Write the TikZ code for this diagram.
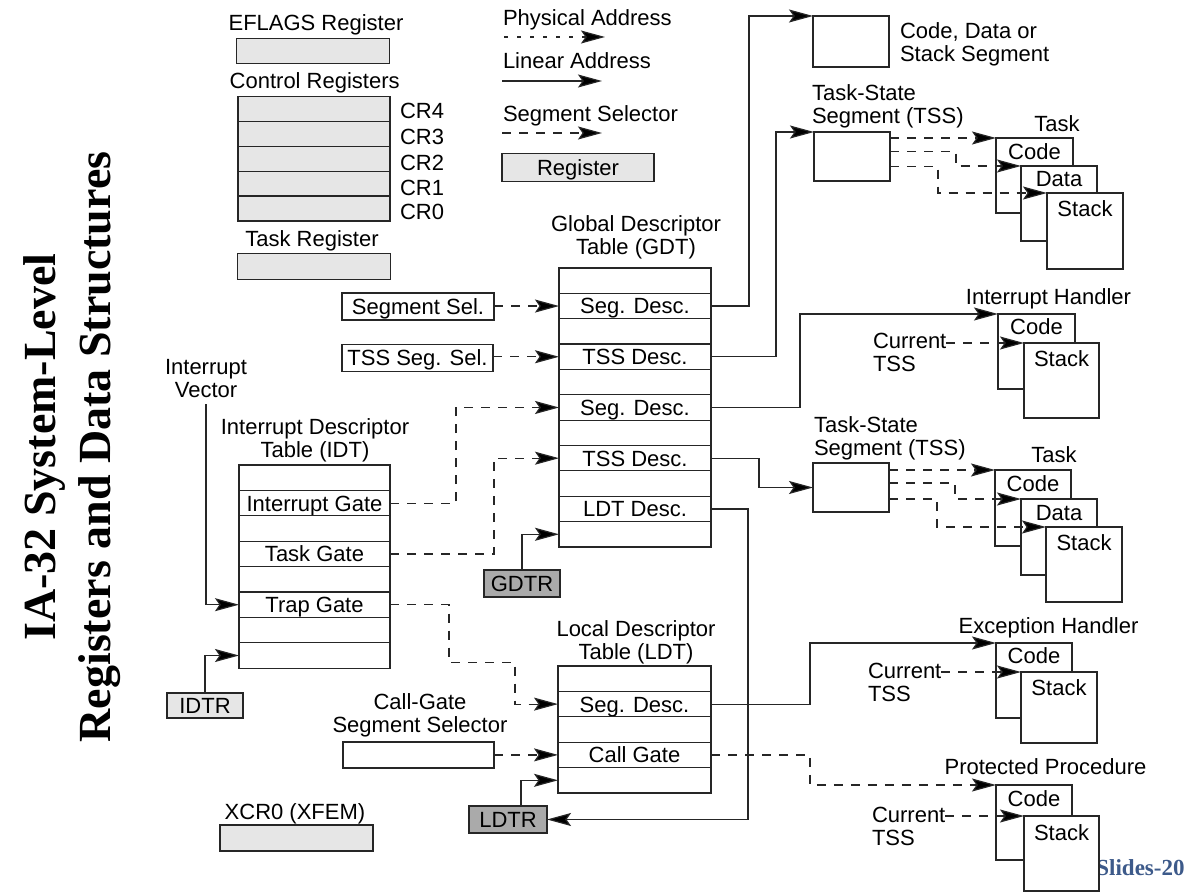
\documentclass[tikz,border=0pt]{standalone}
\usepackage{fontspec}
\setmainfont{Liberation Sans}
\newfontfamily\serifbold{Liberation Serif}
\usetikzlibrary{arrows.meta,calc}
\definecolor{lightreg}{HTML}{E6E6E6}
\definecolor{darkreg}{HTML}{AAAAAA}
\definecolor{linecol}{HTML}{262626}
\definecolor{slideblue}{HTML}{3D5A8A}
\begin{document}
\begin{tikzpicture}[x=1pt,y=-1pt,
  every node/.style={inner sep=0pt,outer sep=0pt},
  fs/.style={font=\fontsize{22}{23}\selectfont},
  lbl/.style={fs,text height=15.8pt,text depth=0pt},
  lbl2/.style={fs,align=center},
  plainbox/.style={draw=linecol,line width=1.2pt,fill=white},
  regbox/.style={draw=linecol,line width=1.2pt,fill=lightreg},
  darkbox/.style={draw=linecol,line width=1.2pt,fill=darkreg},
  cell/.style={plainbox,lbl,minimum height=25.4pt},
  regcell/.style={regbox,minimum height=24.9pt,minimum width=152pt},
  conn/.style={draw=linecol,line width=1.2pt},
  dconn/.style={conn,dash pattern=on 9pt off 8pt},
  pconn/.style={conn,dash pattern=on 4pt off 9pt},
  arr/.style={-{Stealth[length=24pt,width=13pt,inset=4.5pt,fill=black]}},
]
\fill[white] (0,0) rectangle (1192,896);
\useasboundingbox (0,0) rectangle (1192,896);

% ---------- title ----------
\node[font=\serifbold\bfseries\fontsize{46}{55}\selectfont,align=center,rotate=90] (title) at (71.75,447)
  {\strut IA-32 System-Level\\\strut Registers and Data Structures};
\node[font=\serifbold\bfseries\fontsize{23}{25}\selectfont,text=slideblue,text height=15.2pt,text depth=0pt] (slides) at (1140.5,868) {Slides-20};

% ---------- registers (top left) ----------
\node[lbl] (eflagslbl) at (316,23) {EFLAGS Register};
\node[regbox,minimum width=153pt,minimum height=25pt] (eflags) at (313.3,50.8) {};
\node[lbl] (crlbl) at (314.7,81) {Control Registers};
\node[regcell] (cr4) at (314,108.95) {};
\node[regcell] (cr3) at (314,133.85) {};
\node[regcell] (cr2) at (314,158.75) {};
\node[regcell] (cr1) at (314,183.65) {};
\node[regcell] (cr0) at (314,208.55) {};
\node[lbl,anchor=west] (cr4l) at (400,111) {CR4};
\node[lbl,anchor=west] (cr3l) at (400,137) {CR3};
\node[lbl,anchor=west] (cr2l) at (400,163) {CR2};
\node[lbl,anchor=west] (cr1l) at (400,188) {CR1};
\node[lbl,anchor=west] (cr0l) at (400,212) {CR0};
\node[lbl] (trlbl) at (312,239) {Task Register};
\node[regbox,minimum width=153pt,minimum height=26pt] (tr) at (314.2,266.3) {};

% ---------- legend ----------
\node[lbl,anchor=west] (physlbl) at (503,17.5) {Physical Address};
\coordinate (pa) at (504,37);
\coordinate (pb) at (605,37);
\node[lbl,anchor=west] (linlbl) at (503,61) {Linear Address};
\coordinate (la) at (502,81);
\coordinate (lb) at (602,81);
\node[lbl,anchor=west] (sellbl) at (503,113.5) {Segment Selector};
\coordinate (sa) at (502,133);
\coordinate (sb) at (602,133);
\node[regbox,lbl,minimum width=152pt,minimum height=28pt] (reglegend) at (578,167.5) {Register};

% ---------- code/data/stack segment ----------
\node[plainbox,minimum width=76pt,minimum height=51pt,anchor=north west] (cds) at (813,16) {};
\node[lbl2,anchor=west,align=left] (cdslbl) at (900,45.8) {\strut Code, Data or\\\strut Stack Segment};

% ---------- TSS 1 and task 1 ----------
\node[lbl2,anchor=west,align=left] (tss1lbl) at (812,107.3) {\strut Task-State\\\strut Segment (TSS)};
\node[plainbox,minimum width=76pt,minimum height=49pt,anchor=north west] (tss1) at (814,132) {};
\node[lbl] (task1lbl) at (1057,124) {Task};
\node[plainbox,minimum width=77pt,minimum height=75pt,anchor=north west] (t1code) at (996,138) {};
\node[plainbox,minimum width=76pt,minimum height=75pt,anchor=north west] (t1data) at (1021,166) {};
\node[plainbox,minimum width=76pt,minimum height=76pt,anchor=north west] (t1stack) at (1047,193) {};
\node[lbl] (t1codet) at ([yshift=-13.5pt]t1code.north) {Code};
\node[lbl] (t1datat) at ([yshift=-13pt]t1data.north) {Data};
\node[lbl] (t1stackt) at ([yshift=-16pt]t1stack.north) {Stack};

% ---------- interrupt handler ----------
\node[lbl] (ihlbl) at (1048.5,297) {Interrupt Handler};
\node[plainbox,minimum width=77pt,minimum height=75pt,anchor=north west] (ihcode) at (998,314) {};
\node[plainbox,minimum width=75pt,minimum height=75pt,anchor=north west] (ihstack) at (1024,343) {};
\node[lbl] (ihcodet) at ([yshift=-13pt]ihcode.north) {Code};
\node[lbl] (ihstackt) at ([yshift=-16pt]ihstack.north) {Stack};
\node[lbl2,anchor=west,align=left] (cur1) at (873,355.8) {\strut Current\\\strut TSS};

% ---------- TSS 2 and task 2 ----------
\node[lbl2,anchor=west,align=left] (tss2lbl) at (814,439.3) {\strut Task-State\\\strut Segment (TSS)};
\node[plainbox,minimum width=76pt,minimum height=49pt,anchor=north west] (tss2) at (813,463) {};
\node[lbl] (task2lbl) at (1054,455) {Task};
\node[plainbox,minimum width=76pt,minimum height=76pt,anchor=north west] (t2code) at (995,470) {};
\node[plainbox,minimum width=76pt,minimum height=76pt,anchor=north west] (t2data) at (1021,499) {};
\node[plainbox,minimum width=76pt,minimum height=75pt,anchor=north west] (t2stack) at (1046,527) {};
\node[lbl] (t2codet) at ([yshift=-14pt]t2code.north) {Code};
\node[lbl] (t2datat) at ([yshift=-14pt]t2data.north) {Data};
\node[lbl] (t2stackt) at ([yshift=-16pt]t2stack.north) {Stack};

% ---------- exception handler ----------
\node[lbl] (ehlbl) at (1048.5,626) {Exception Handler};
\node[plainbox,minimum width=76pt,minimum height=75pt,anchor=north west] (ehcode) at (996,643) {};
\node[plainbox,minimum width=76pt,minimum height=71pt,anchor=north west] (ehstack) at (1021,672) {};
\node[lbl] (ehcodet) at ([yshift=-13pt]ehcode.north) {Code};
\node[lbl] (ehstackt) at ([yshift=-16pt]ehstack.north) {Stack};
\node[lbl2,anchor=west,align=left] (cur2) at (868,685.8) {\strut Current\\\strut TSS};

% ---------- protected procedure ----------
\node[lbl] (pplbl) at (1045.5,767) {Protected Procedure};
\node[plainbox,minimum width=76pt,minimum height=75pt,anchor=north west] (ppcode) at (996,785) {};
\node[plainbox,minimum width=75pt,minimum height=75pt,anchor=north west] (ppstack) at (1024,816) {};
\node[lbl] (ppcodet) at ([yshift=-14pt]ppcode.north) {Code};
\node[lbl] (ppstackt) at ([yshift=-16.5pt]ppstack.north) {Stack};
\node[lbl2,anchor=west,align=left] (cur3) at (872,829.8) {\strut Current\\\strut TSS};

% ---------- GDT ----------
\node[lbl2] (gdtlbl) at (636,238.8) {\strut Global Descriptor\\\strut Table (GDT)};
\node[cell,minimum width=152pt] (gdt0) at (635,280.68) {};
\node[cell,minimum width=152pt] (gdt1) at (635,306.04) {Seg. Desc.};
\node[cell,minimum width=152pt] (gdt2) at (635,331.40) {};
\node[cell,minimum width=152pt] (gdt3) at (635,356.76) {TSS Desc.};
\node[cell,minimum width=152pt] (gdt4) at (635,382.12) {};
\node[cell,minimum width=152pt] (gdt5) at (635,407.48) {Seg. Desc.};
\node[cell,minimum width=152pt] (gdt6) at (635,432.84) {};
\node[cell,minimum width=152pt] (gdt7) at (635,458.20) {TSS Desc.};
\node[cell,minimum width=152pt] (gdt8) at (635,483.56) {};
\node[cell,minimum width=152pt] (gdt9) at (635,508.92) {LDT Desc.};
\node[cell,minimum width=152pt] (gdt10) at (635,534.28) {};

\node[plainbox,lbl,minimum width=152pt,minimum height=27pt] (segsel) at (418,306.5) {Segment Sel.};
\node[plainbox,lbl,minimum width=151pt,minimum height=27pt] (tsssel) at (417.5,358) {TSS Seg. Sel.};
\node[darkbox,lbl,minimum width=76pt,minimum height=27pt] (gdtr) at (522,583.5) {GDTR};

% ---------- IDT ----------
\node[lbl2] (ivlbl) at (206,381) {\strut Interrupt\\\strut Vector};
\node[lbl2] (idtlbl) at (315,441.5) {\strut Interrupt Descriptor\\\strut Table (IDT)};
\node[cell,minimum width=151pt] (idt0) at (314.5,477.7) {};
\node[cell,minimum width=151pt] (idt1) at (314.5,503.1) {Interrupt Gate};
\node[cell,minimum width=151pt] (idt2) at (314.5,528.5) {};
\node[cell,minimum width=151pt] (idt3) at (314.5,553.9) {Task Gate};
\node[cell,minimum width=151pt] (idt4) at (314.5,579.3) {};
\node[cell,minimum width=151pt] (idt5) at (314.5,604.7) {Trap Gate};
\node[cell,minimum width=151pt] (idt6) at (314.5,630.1) {};
\node[cell,minimum width=151pt] (idt7) at (314.5,655.5) {};
\node[regbox,lbl,minimum width=76pt,minimum height=25pt] (idtr) at (205,705.5) {IDTR};

% ---------- LDT ----------
\node[lbl2] (ldtlbl) at (636,643) {\strut Local Descriptor\\\strut Table (LDT)};
\node[cell,minimum width=153pt] (ldt0) at (634.5,678.7) {};
\node[cell,minimum width=153pt] (ldt1) at (634.5,704.1) {Seg. Desc.};
\node[cell,minimum width=153pt] (ldt2) at (634.5,729.5) {};
\node[cell,minimum width=153pt] (ldt3) at (634.5,754.9) {Call Gate};
\node[cell,minimum width=153pt] (ldt4) at (634.5,780.3) {};
\node[lbl2] (cglbl) at (420,716.5) {\strut Call-Gate\\\strut Segment Selector};
\node[plainbox,minimum width=151pt,minimum height=26pt] (cgsel) at (418.5,754.9) {};
\node[darkbox,lbl,minimum width=78pt,minimum height=27pt] (ldtr) at (508,819.5) {LDTR};
\node[lbl] (xcrlbl) at (295,812) {XCR0 (XFEM)};
\node[regbox,minimum width=153pt,minimum height=26pt] (xcr0) at (296.5,838) {};

% ---------- connectors ----------
% legend
\draw[pconn,arr] (pa) -- (pb);
\draw[conn,arr] (la) -- (lb);
\draw[dconn,arr] (sa) -- (sb);

% GDT outputs
\draw[conn,arr] (gdt1.east) -- ++(38,0) |- (cds.north west);
\draw[conn,arr] (gdt3.east) -- ++(65,0) |- (tss1.north west);
\draw[conn,arr] (gdt5.east) -- ++(89,0) |- (ihcode.north west);
\draw[conn,arr] (gdt7.east) -- ++(48,0) |- (tss2.west);
\draw[conn,arr] (gdt9.east) -- ++(37,0) |- (ldtr.east);

% LDT outputs
\draw[conn,arr] (ldt1.east) -- ++(99,0) |- (ehcode.north west);
\draw[dconn,arr] (ldt3.east) -- ++(99,0) |- (ppcode.north west);

% selectors into GDT / LDT
\draw[dconn,arr] (segsel.east |- gdt1.west) -- (gdt1.west);
\draw[dconn,arr] (tsssel.east |- gdt3.west) -- (gdt3.west);
\draw[dconn,arr] (cgsel.east |- ldt3.west) -- (ldt3.west);

% IDT gates
\draw[dconn,arr] (idt1.east) -- ++(66,0) |- (gdt5.west);
\draw[dconn,arr] (idt3.east) -- ++(104,0) |- (gdt7.west);
\draw[dconn,arr] (idt5.east) -- ++(59,0) |- (515,662.5) |- (ldt1.west);

% table registers and vector
\draw[conn,arr] (ivlbl.south) |- (idt5.west);
\draw[conn,arr] (idtr.north) |- (idt7.west);
\draw[conn,arr] (gdtr.north) |- (gdt10.west);
\draw[conn,arr] ([xshift=13pt]ldtr.north) |- (ldt4.west);

% TSS 1 to task 1
\draw[dconn,arr] (tss1.east |- t1code.north west) -- (t1code.north west);
\draw[dconn,arr] ([yshift=-19.7pt]tss1.north east) -- ++(66,0) |- (t1data.north west);
\draw[dconn,arr] ([yshift=-34.7pt]tss1.north east) -- ++(48,0) |- (t1stack.north west);

% TSS 2 to task 2
\draw[dconn,arr] (tss2.east |- t2code.north west) -- (t2code.north west);
\draw[dconn,arr] ([yshift=-20pt]tss2.north east) -- ++(66,0) |- (t2data.north west);
\draw[dconn,arr] ([yshift=-36pt]tss2.north east) -- ++(48,0) |- (t2stack.north west);

% current TSS to stacks
\draw[dconn,arr] (cur1.east |- ihstack.north west) -- (ihstack.north west);
\draw[dconn,arr] (cur2.east |- ehstack.north west) -- (ehstack.north west);
\draw[dconn,arr] (cur3.east |- ppstack.north west) -- (ppstack.north west);
\end{tikzpicture}
\end{document}
